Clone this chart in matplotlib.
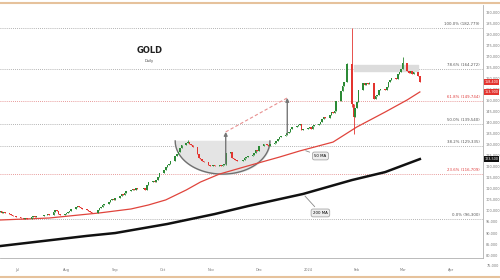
import numpy as np
import pandas as pd
import matplotlib
matplotlib.use('Agg')
import matplotlib.pyplot as plt
import matplotlib.dates as mdates
from matplotlib.lines import Line2D

# daily closes, business days 2023-06-20 .. 2024-03-12
jun = [99800, 99300, 99600, 98900, 98400, 98000, 97600, 97900, 97400]
jul = [97000, 96600, 96300, 96800, 96500, 97200, 97600, 97300, 97800, 97500, 97900,
       98300, 98000, 98400, 98100, 99600, 100400, 99800, 98600, 98100, 98500]
aug = [99000, 99400, 100200, 101000, 101900, 102300, 101700, 101200, 100800, 100500,
       100100, 99600, 99200, 99000, 100300, 101400, 102000, 102900, 103300, 104100,
       104800, 105300, 105000]
sep = [106000, 106800, 107500, 107200, 108300, 108900, 109500, 110000, 109700, 110300,
       110100, 109800, 110400, 109600, 111800, 112900, 113400, 113000, 114200, 115600, 117000]
oct_ = [118500, 119800, 120600, 121300, 122500, 124800, 125600, 126500, 128300, 129800,
        130600, 131200, 130400, 129800, 128900, 126000, 124200, 123600, 122800, 122300,
        121000, 120500]
nov = [120200, 120800, 120400, 120700, 120300, 120900, 121200, 126400, 126900, 124000,
       123600, 122900, 122500, 122700, 123100, 123800, 124300, 124800, 125200, 126100,
       127400, 127000]
dec = [129500, 130400, 130100, 129800, 129600, 130200, 131000, 131800, 132500, 133400,
       133900, 134600, 135100, 135800, 136900, 138000, 138300, 138800, 139300, 136800, 137300]
jan = [137600, 137800, 137000, 138400, 138900, 139200, 140300, 141800, 142400, 142000,
       143600, 144800, 144200, 145100, 149800, 154500, 156800, 158600, 158200, 166500,
       148400, 142500, 146800]
feb = [149500, 155000, 157900, 157200, 158000, 157600, 158100, 150600, 151900, 152400,
       154700, 155400, 154800, 156300, 158400, 159300, 160000, 159600, 161800, 163100, 164300]
mar = [167000, 163200, 162500, 163400, 161800, 162900, 161200, 158400]
first_open = 99500

# notable wicks
wick_high = {'2023-10-17': 132200, '2024-01-29': 182779, '2024-03-01': 169800,
             '2024-02-09': 158600, '2024-01-26': 167000}
wick_low = {'2023-07-05': 96300, '2024-01-30': 134900, '2024-01-29': 147000,
            '2023-11-10': 120800}

# moving averages
ma50_dates = ['2023-06-20', '2023-07-21', '2023-08-22', '2023-09-11', '2023-09-22',
              '2023-10-03', '2023-10-16', '2023-10-25', '2023-11-06', '2023-11-24',
              '2023-12-14', '2023-12-27', '2024-01-17', '2024-02-01', '2024-02-19',
              '2024-03-04', '2024-03-12']
ma50_vals = [95900, 96800, 99100, 100900, 102700, 105000, 109500, 113100, 116700,
             120400, 124400, 127200, 131200, 138000, 144800, 150300, 153900]
ma200_dates = ['2023-06-20', '2023-08-14', '2023-09-01', '2023-10-04', '2023-11-03',
               '2023-11-24', '2023-12-29', '2024-01-29', '2024-02-19', '2024-03-12']
ma200_vals = [84100, 88700, 90000, 94100, 98600, 102200, 107700, 114000, 117600, 123500]

fib_low, fib_high = 96300, 182779
fib_pcts = [0.0, 23.6, 38.2, 50.0, 61.8, 78.6, 100.0]
fib_red = [23.6, 61.8]

# cup & handle / measured move
cup_left, cup_right = '2023-10-09', '2023-12-08'
cup_top, cup_bottom = 131700, 116700
move1 = ('2023-11-10', 121300, 135800)
move2 = ('2023-12-19', 134900, 151200)
zone = ('2024-01-30', '2024-03-11', 163400, 166100)

month_ticks = ['2023-07-01', '2023-08-01', '2023-09-01', '2023-10-01', '2023-11-01',
               '2023-12-01', '2024-01-01', '2024-02-01', '2024-03-01', '2024-04-01']
month_labels = ['Jul', 'Aug', 'Sep', 'Oct', 'Nov', 'Dec', '2024', 'Feb', 'Mar', 'Apr']

dates = pd.bdate_range('2023-06-20', '2024-03-12')
closes = np.array(jun + jul + aug + sep + oct_ + nov + dec + jan + feb + mar, dtype=float)
assert len(closes) == len(dates)
opens = np.concatenate([[first_open], closes[:-1]])
highs = np.maximum(opens, closes)
lows = np.minimum(opens, closes)
for k, v in wick_high.items():
    highs[dates.get_loc(pd.Timestamp(k))] = v
for k, v in wick_low.items():
    lows[dates.get_loc(pd.Timestamp(k))] = v

GREEN, RED = '#2c8a36', '#e3342f'

fig = plt.figure(figsize=(5, 2.8), dpi=100)
ax = fig.add_axes([0.0, 0.0786, 0.966, 0.9036])
xd = mdates.date2num(dates)
cols = [GREEN if c >= o else RED for o, c in zip(opens, closes)]

# fib levels
for p in fib_pcts:
    lvl = fib_low + (fib_high - fib_low) * p / 100
    c = '#e07a7a' if p in fib_red else '#9a9a9a'
    tc = '#e03c3c' if p in fib_red else '#555555'
    ax.axhline(lvl, color=c, lw=0.6, ls=(0, (1, 1.5)), zorder=1)
    ax.text(0.993, lvl + 900, '%.1f%% (%s)' % (p, format(int(round(lvl)), ',')),
            transform=ax.get_yaxis_transform(), ha='right', va='bottom',
            fontsize=2.8, color=tc)

# cup
cx = mdates.date2num(pd.Timestamp(cup_left))
cx2 = mdates.date2num(pd.Timestamp(cup_right))
t = np.linspace(np.pi, 2 * np.pi, 100)
arc_x = (cx + cx2) / 2 + (cx2 - cx) / 2 * np.cos(t)
arc_y = cup_top + (cup_top - cup_bottom) * np.sin(t)
ax.fill_between(arc_x, arc_y, cup_top, color='#e4e4e4', zorder=1)
ax.plot(arc_x, arc_y, color='#707070', lw=1.0, zorder=2)

# resistance zone
z0, z1 = mdates.date2num(pd.Timestamp(zone[0])), mdates.date2num(pd.Timestamp(zone[1]))
ax.fill_between([z0, z1], zone[2], zone[3], color='#dcdcdc', zorder=1)

# moving averages
ax.plot(pd.to_datetime(ma200_dates), ma200_vals, color='#111111', lw=1.8, zorder=2)
ax.plot(pd.to_datetime(ma50_dates), ma50_vals, color='#e0443c', lw=0.9, zorder=2)

# candles
ax.vlines(xd, lows, highs, color=cols, lw=0.6, zorder=3)
ax.bar(xd, np.maximum(np.abs(closes - opens), 250), bottom=np.minimum(opens, closes),
       width=1.0, color=cols, zorder=4)

# measured move
for d, y0, y1 in (move1, move2):
    ax.annotate('', xy=(pd.Timestamp(d), y1), xytext=(pd.Timestamp(d), y0),
                arrowprops=dict(arrowstyle='-|>', color='#777777', lw=1.0,
                                mutation_scale=5, shrinkA=0, shrinkB=0), zorder=5)
ax.plot([pd.Timestamp(move1[0]), pd.Timestamp(move2[0])], [move1[2], move2[2]],
        color='#e89090', lw=0.8, ls=(0, (3, 2)), zorder=2)

# MA labels
box = dict(boxstyle='round,pad=0.5', fc='#eeeeee', ec='#999999', lw=0.5)
ax.annotate('50 MA', xy=(pd.Timestamp('2023-12-29'), 127700),
            xytext=(pd.Timestamp('2024-01-09'), 124900), fontsize=2.8, ha='center',
            va='center', bbox=box, arrowprops=dict(arrowstyle='-', color='#888888', lw=0.6))
ax.annotate('200 MA', xy=(pd.Timestamp('2023-12-29'), 107700),
            xytext=(pd.Timestamp('2024-01-09'), 99100), fontsize=2.8, ha='center',
            va='center', bbox=box, arrowprops=dict(arrowstyle='-', color='#888888', lw=0.6))

# last value boxes
for val, fc in ((closes[-1], '#e3342f'), (ma50_vals[-1], '#e3342f'), (ma200_vals[-1], '#111111')):
    ax.text(1.004, val, format(int(val), ','), transform=ax.get_yaxis_transform(),
            fontsize=2.4, color='white', ha='left', va='center', clip_on=False,
            bbox=dict(boxstyle='square,pad=0.2', fc=fc, ec='none'))

# axes
ax.set_xlim(pd.Timestamp('2023-06-20'), pd.Timestamp('2024-04-21'))
ax.set_ylim(78700, 193280)
ax.yaxis.tick_right()
yt = list(range(80000, 190001, 5000))
ax.set_yticks(yt)
ax.set_yticklabels([format(v, ',') for v in yt])
ax.text(1.008, 75000, '75,000', transform=ax.get_yaxis_transform(), fontsize=2.5,
        color='#777777', va='center', clip_on=False)
ax.set_xticks(pd.to_datetime(month_ticks))
ax.set_xticklabels(month_labels)
ax.tick_params(axis='both', length=0, labelsize=2.5, labelcolor='#777777')
ax.tick_params(axis='y', pad=2)
ax.tick_params(axis='x', pad=7)
for s in ('top', 'left'):
    ax.spines[s].set_visible(False)
for s in ('right', 'bottom'):
    ax.spines[s].set_color('#b0b0b0')
    ax.spines[s].set_linewidth(0.6)

fig.text(0.30, 0.821, 'GOLD', fontsize=6, fontweight='bold', color='#222222', ha='center',
         va='center')
fig.text(0.29, 0.782, 'Daily', fontsize=2.6, color='#444444', ha='left', va='center')

fig.add_artist(Line2D([0, 1], [0.99, 0.99], color='#e6c29c', lw=1.5))
fig.add_artist(Line2D([0, 1], [0.012, 0.012], color='#e6c29c', lw=1.5))

fig.savefig('out.png', dpi=100, facecolor='w')
